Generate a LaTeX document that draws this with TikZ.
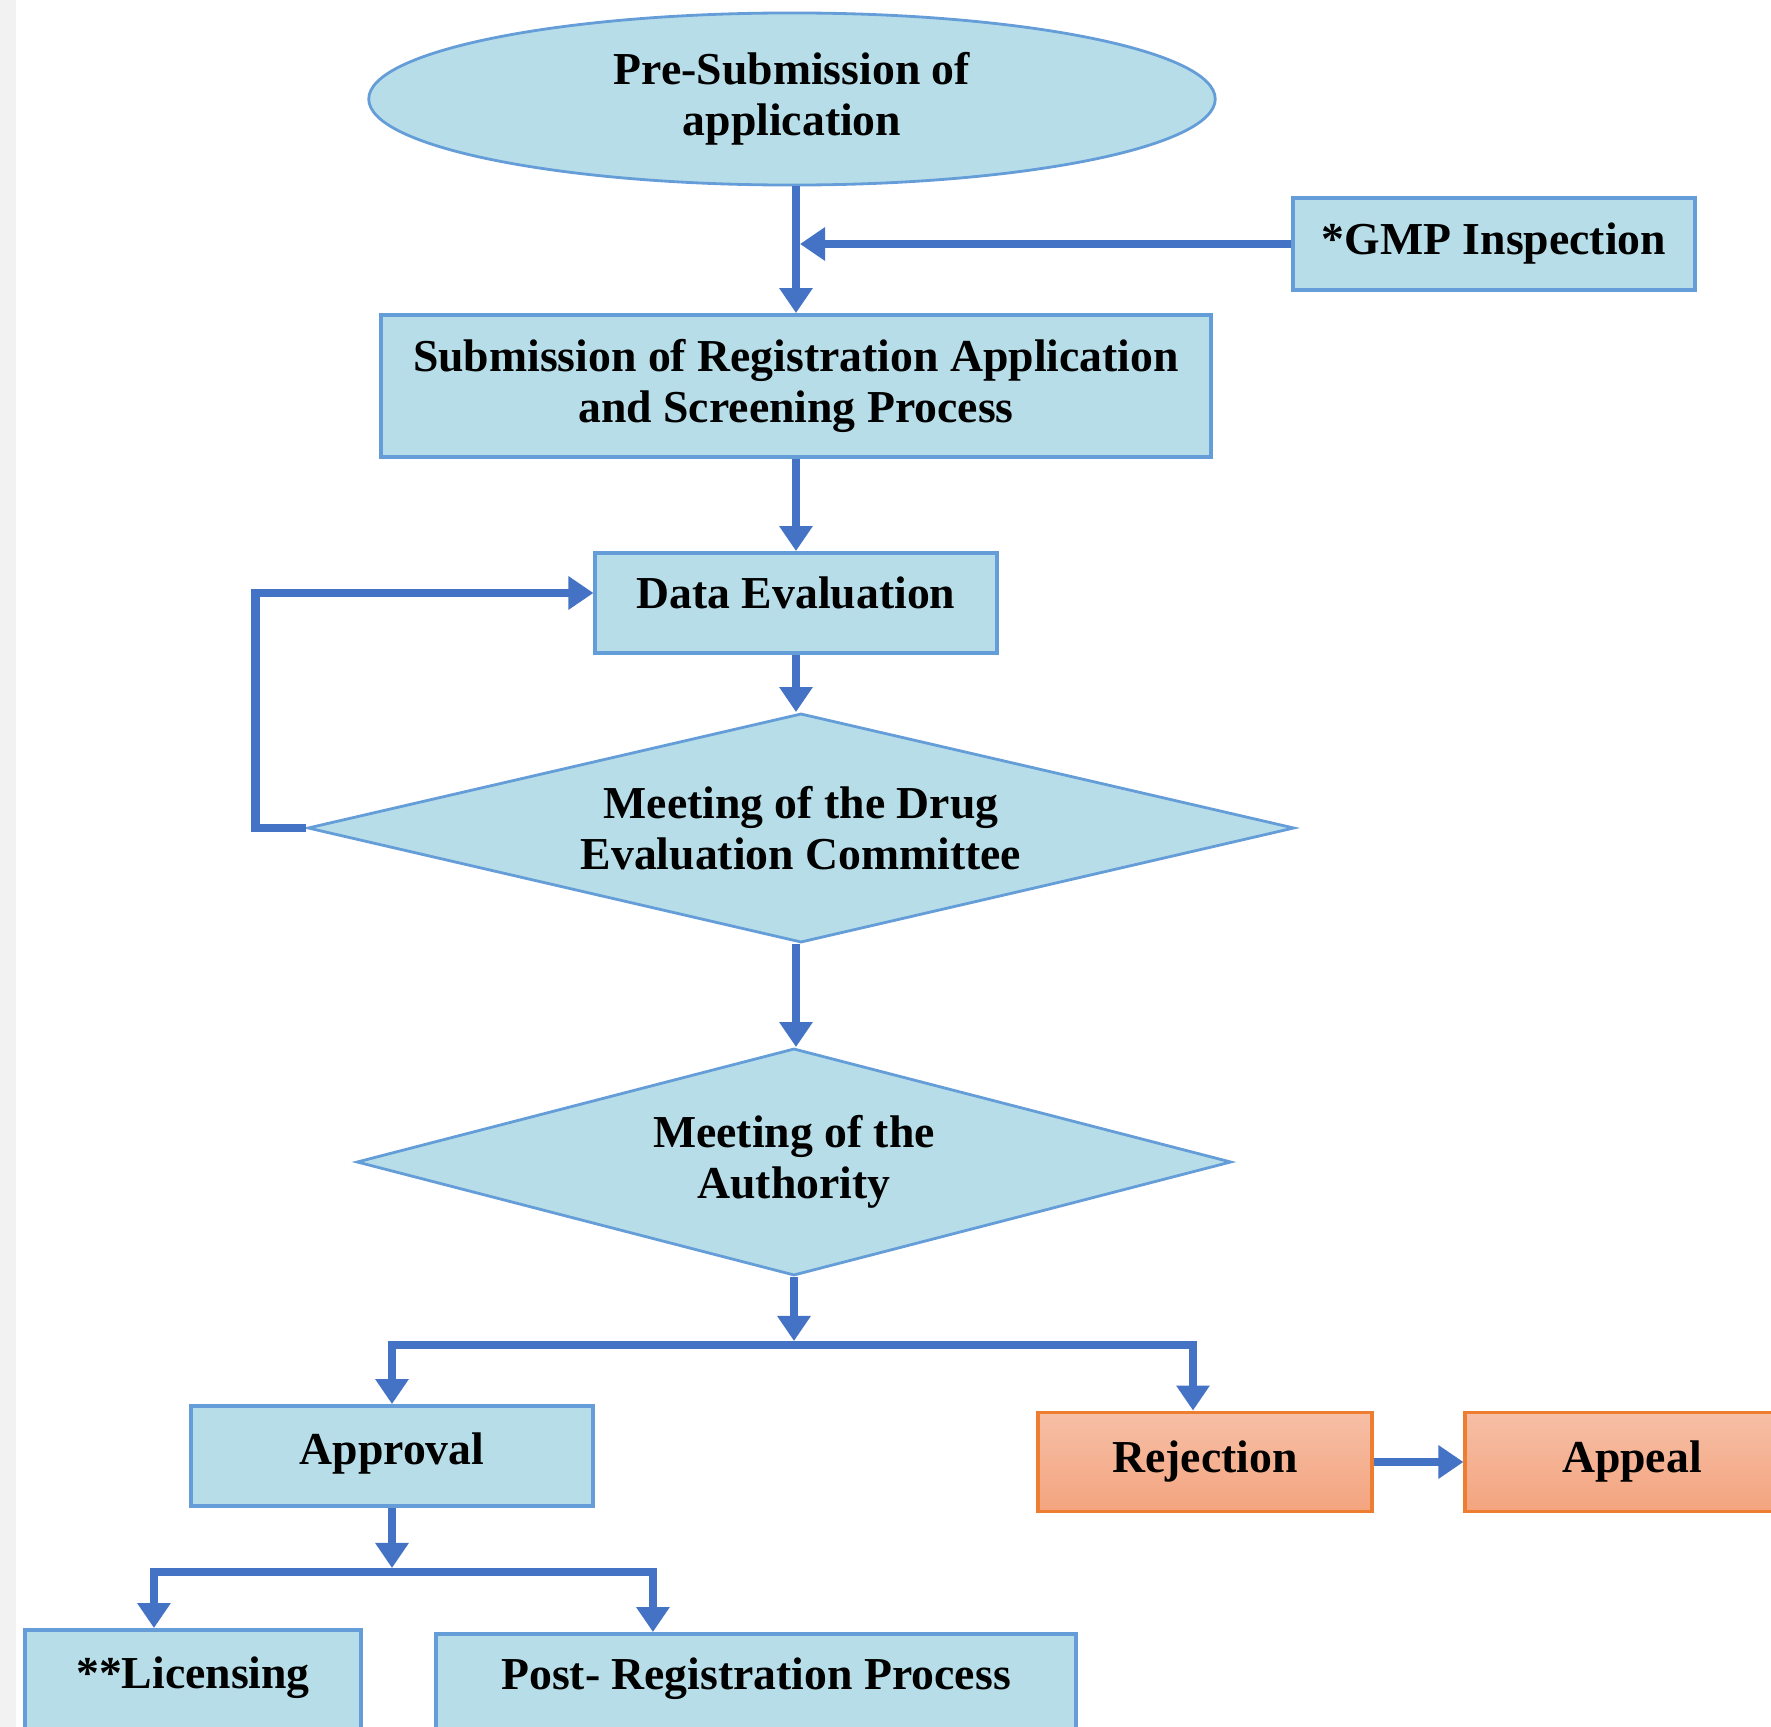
\documentclass[tikz,border=0pt]{standalone}
\usepackage{fontspec}
\setmainfont{Liberation Serif}
\usepackage{tikz}
\usetikzlibrary{shapes.geometric,arrows.meta}

\definecolor{boxfill}{HTML}{B7DEE8}
\definecolor{boxline}{HTML}{659DD8}
\definecolor{flowblue}{HTML}{4472C4}
\definecolor{rejline}{HTML}{ED7D31}
\definecolor{rejtop}{HTML}{F6BFA6}
\definecolor{rejbot}{HTML}{F4A47F}
\definecolor{margin}{HTML}{F2F2F2}

\begin{document}
\begin{tikzpicture}[x=0.01cm,y=-0.01cm,
    stepfont/.style={font=\bfseries\fontsize{13}{14.5}\selectfont,align=center},
    stepbox/.style={draw=boxline,line width=1.1pt,fill=boxfill,stepfont,inner sep=0pt},
    rejbox/.style={stepbox,draw=rejline,top color=rejtop,bottom color=rejbot},
    decision/.style={draw=boxline,fill=boxfill,diamond,line width=0.8pt,inner sep=0pt},
    flow/.style={draw=flowblue,line width=2.4pt,line join=miter,
      -{Triangle[width=0.32cm,length=0.25cm]}}]

        % Page
        \useasboundingbox (0,0) rectangle (1771,1727);
        \fill[margin] (0,0) rectangle (16,1727);

        % Steps
        \node[stepbox,ellipse,line width=0.8pt,minimum width=8.46cm,minimum height=1.72cm] (pre) at (792,99) {Pre-Submission of\\application};
        \node[stepbox,minimum width=4.01cm,minimum height=0.92cm,text depth=0.1cm] (gmp) at (1494,244) {*GMP Inspection};
        \node[stepbox,minimum width=8.30cm,minimum height=1.42cm] (sub) at (796,386) {Submission of Registration Application\\and Screening Process};
        \node[stepbox,minimum width=4.01cm,minimum height=1.0cm,text depth=0.2cm] (data) at (796,603) {Data Evaluation};
        \node[decision,minimum width=9.86cm,minimum height=2.29cm,
          label={[stepfont]center:Meeting of the Drug\\Evaluation Committee}] (dec) at (801,828) {};
        \node[decision,minimum width=8.74cm,minimum height=2.27cm,
          label={[stepfont]center:Meeting of the\\Authority}] (auth) at (794,1162) {};

        % Outcomes
        \node[stepbox,minimum width=4.02cm,minimum height=1.0cm,text depth=0.15cm] (appr) at (392,1456) {Approval};
        \node[rejbox,minimum width=3.33cm,minimum height=0.99cm] (rej) at (1205,1462) {Rejection};
        \node[rejbox,minimum width=3.33cm,minimum height=0.99cm] (appeal) at (1632,1462) {Appeal};
        \node[stepbox,minimum width=3.35cm,minimum height=1.0cm,text depth=0.15cm] (lic) at (193,1680) {**Licensing};
        \node[stepbox,minimum width=6.39cm,minimum height=1.0cm,text depth=0.2cm] (post) at (756,1684) {Post- Registration Process};

        % Main column
        \draw[flow] (sub.north |- pre.south) -- (sub.north);
        \draw[flow,shorten >=0.04cm] (gmp.west) -- (sub.north |- gmp.west);
        \draw[flow] (sub.south) -- (data.north);
        \draw[flow] (data.south) -- (data.south |- dec.north);
        \draw[flow] (data.south |- dec.south) -- (data.south |- auth.north);

        % Loop back to evaluation
        \draw[flow] (dec.west) -- ++(-51,0) |- ([yshift=0.1cm]data.west);

        % Decision split
        \coordinate (split) at (auth.south |- 0,1345);
        \draw[flow,shorten >=0.04cm] (auth.south) -- (split);
        \draw[flow] (split) -| (appr.north);
        \draw[flow] (split) -| ([xshift=-0.12cm]rej.north);
        \draw[flow] (rej.east) -- (appeal.west);

        % After approval
        \coordinate (split2) at (appr.south |- 0,1572);
        \draw[flow,shorten >=0.04cm] (appr.south) -- (split2);
        \draw[flow] (split2) -| ([xshift=-0.39cm]lic.north);
        \draw[flow] (split2) -| ([xshift=-1.03cm]post.north);

    \end{tikzpicture}
\end{document}
